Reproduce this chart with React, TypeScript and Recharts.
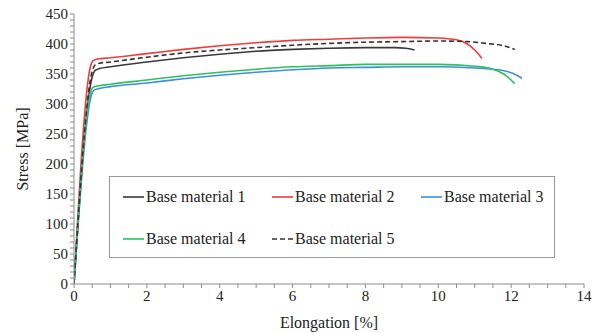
import React from 'react';
import { ComposedChart, Line, XAxis, YAxis, Legend } from 'recharts';

// elongation [%] / stress [MPa]
const bm1Elong = [0, 0.5, 0.58, 0.7, 1, 2, 3, 4, 5, 6, 7, 8, 8.8, 9.1, 9.35];
const bm1Stress = [0, 345, 356, 359, 362, 370, 377, 383, 388, 391, 393, 394, 394, 393, 390];

const bm2Elong = [0, 0.45, 0.52, 0.65, 1, 2, 3, 4, 5, 6, 7, 8, 9, 10, 10.5, 10.8, 11.0, 11.2];
const bm2Stress = [0, 362, 372, 375, 377, 384, 391, 397, 402, 406, 408, 410, 411, 410, 407, 400, 390, 376];

const bm3Elong = [0, 0.48, 0.55, 0.7, 1, 2, 3, 4, 5, 6, 7, 8, 9, 10, 11, 11.5, 12, 12.3];
const bm3Stress = [0, 315, 323, 326, 329, 335, 342, 348, 353, 357, 360, 361, 362, 362, 360, 358, 352, 343];

const bm4Elong = [0, 0.45, 0.52, 0.65, 1, 2, 3, 4, 5, 6, 7, 8, 9, 10, 11, 11.5, 11.8, 12.1];
const bm4Stress = [0, 318, 328, 330, 333, 340, 347, 353, 358, 362, 364, 366, 366, 366, 363, 358, 350, 334];

const bm5Elong = [0, 0.5, 0.58, 0.7, 1, 2, 3, 4, 5, 6, 7, 8, 9, 10, 10.8, 11.3, 11.8, 12.1];
const bm5Stress = [0, 355, 365, 368, 370, 378, 385, 390, 394, 398, 401, 403, 404, 405, 404, 401, 397, 391];

const seriesNames = ['Base material 1', 'Base material 2', 'Base material 3', 'Base material 4', 'Base material 5'];

const xTicks = Array.from({ length: 29 }, (_, i) => i * 0.5);
const yTicks = Array.from({ length: 46 }, (_, i) => i * 10);

const toPoints = (xs: number[], ys: number[]) => xs.map((x, i) => ({ x, y: ys[i] }));

const series = [
  { name: seriesNames[0], data: toPoints(bm1Elong, bm1Stress), color: '#3a3a3a', dash: undefined },
  { name: seriesNames[1], data: toPoints(bm2Elong, bm2Stress), color: '#f03c3c', dash: undefined },
  { name: seriesNames[2], data: toPoints(bm3Elong, bm3Stress), color: '#3f8fd8', dash: undefined },
  { name: seriesNames[3], data: toPoints(bm4Elong, bm4Stress), color: '#2fc060', dash: undefined },
  { name: seriesNames[4], data: toPoints(bm5Elong, bm5Stress), color: '#333333', dash: '5 3' },
];

const font = 'Liberation Serif, Times New Roman, serif';

function LegendBox() {
  const cols = [0, 149, 298];
  return (
    <div style={{ width: 446, height: 82, border: '1px solid #9a9a9a', boxSizing: 'border-box', position: 'relative', background: '#fff' }}>
      {series.map((s, i) => {
        const row = Math.floor(i / 3);
        const col = i % 3;
        return (
          <div
            key={s.name}
            style={{
              position: 'absolute',
              left: 12 + cols[col],
              top: 11 + row * 42,
              display: 'flex',
              alignItems: 'center',
              fontFamily: font,
              fontSize: 16,
              color: '#222',
              whiteSpace: 'nowrap',
            }}
          >
            <svg width={24} height={10}>
              <line x1={1} y1={5} x2={22} y2={5} stroke={s.color} strokeWidth={1.6} strokeDasharray={s.dash} />
            </svg>
            <span>{s.name}</span>
          </div>
        );
      })}
    </div>
  );
}

export default function App() {
  return (
    <div style={{ position: 'absolute', left: 0, top: 0, background: '#fff' }}>
      <ComposedChart width={605} height={333} margin={{ top: 14, right: 21, bottom: 0, left: 0 }}>
        <XAxis
          type="number"
          dataKey="x"
          domain={[0, 14]}
          ticks={xTicks}
          interval={0}
          tickFormatter={(v: number) => (v % 2 === 0 ? String(v) : '')}
          height={49}
          stroke="#8c8c8c"
          tickSize={4}
          tick={{ fill: '#222', fontFamily: font, fontSize: 15 }}
          allowDataOverflow
          label={{ value: 'Elongation [%]', position: 'insideBottom', offset: 5, fill: '#222', fontFamily: font, fontSize: 16 }}
        />
        <YAxis
          type="number"
          dataKey="y"
          domain={[0, 450]}
          ticks={yTicks}
          interval={0}
          tickFormatter={(v: number) => (v % 50 === 0 ? String(v) : '')}
          width={74}
          stroke="#8c8c8c"
          tickSize={4}
          tick={{ fill: '#222', fontFamily: font, fontSize: 15 }}
          label={{ value: 'Stress [MPa]', angle: -90, position: 'insideLeft', offset: 22, fill: '#222', fontFamily: font, fontSize: 16, style: { textAnchor: 'middle' } }}
        />
        <Legend
          layout="horizontal"
          verticalAlign="middle"
          align="center"
          content={() => <LegendBox />}
          wrapperStyle={{ position: 'absolute', left: 109, top: 176, width: 446, height: 82 }}
        />
        {series.map((s) => (
          <Line
            key={s.name}
            name={s.name}
            data={s.data}
            dataKey="y"
            type="monotone"
            stroke={s.color}
            strokeWidth={1.6}
            strokeDasharray={s.dash}
            dot={false}
            activeDot={false}
            isAnimationActive={false}
          />
        ))}
      </ComposedChart>
    </div>
  );
}
